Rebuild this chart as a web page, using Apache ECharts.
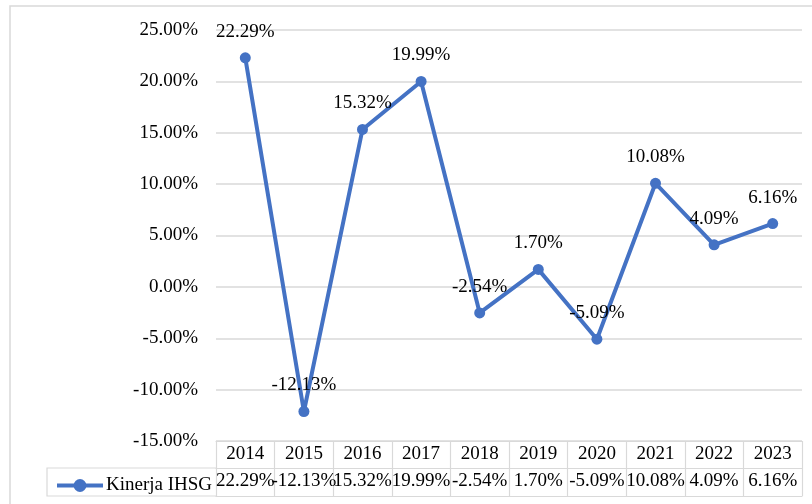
<!DOCTYPE html>
<html>
<head>
<meta charset="utf-8">
<script src="https://cdn.jsdelivr.net/npm/echarts@6/dist/echarts.min.js"></script>
<style>html,body{margin:0;padding:0;background:#fff}#c{width:812px;height:504px}</style>
</head>
<body>
<div id="c"></div>
<script>
const years = ['2014','2015','2016','2017','2018','2019','2020','2021','2022','2023'];
const kinerja = [22.29, -12.13, 15.32, 19.99, -2.54, 1.70, -5.09, 10.08, 4.09, 6.16];
const seriesName = 'Kinerja IHSG';
const yTicks = { min: -15, max: 25, interval: 5 };

const FONT = '"Liberation Serif", "Times New Roman", serif';
const FS = 19;
const GRAY = '#d9d9d9';
const BLUE = '#4472C4';
const chart = echarts.init(document.getElementById('c'));
const fmt = v => v.toFixed(2) + '%';

chart.setOption({
  animation: false,
  grid: { left: 216, right: 10, top: 30, bottom: 63 },
  legend: {
    show: true,
    left: 50, top: 471,
    itemWidth: 46, itemHeight: 16, itemGap: 4,
    lineStyle: { width: 4, color: BLUE },
    itemStyle: { color: BLUE },
    textStyle: { fontFamily: FONT, fontSize: FS, color: '#000', padding: [0, 0, 0, -2] },
    data: [seriesName]
  },
  graphic: [
    { type: 'rect', shape: { x: 10, y: 6, width: 830, height: 540 }, style: { fill: 'none', stroke: GRAY, lineWidth: 1.5 }, silent: true },
    { type: 'polyline', shape: { points: [[216, 468], [47, 468], [47, 496], [216, 496]] }, style: { fill: 'none', stroke: GRAY, lineWidth: 1.2 }, silent: true }
  ],
  xAxis: [
    {
      type: 'category', data: years, position: 'bottom', boundaryGap: true,
      axisLine: { show: true, onZero: false, lineStyle: { color: GRAY, width: 1.2 } },
      axisTick: { show: true, interval: 0, length: 55, lineStyle: { color: GRAY, width: 1.2 } },
      axisLabel: { interval: 0, margin: 4, fontFamily: FONT, fontSize: FS, color: '#000' }
    },
    {
      type: 'category', data: kinerja.map(fmt), position: 'bottom', offset: 27, boundaryGap: true,
      axisLine: { show: true, onZero: false, lineStyle: { color: GRAY, width: 1.2 } },
      axisTick: { show: false },
      axisLabel: { interval: 0, margin: 4, fontFamily: FONT, fontSize: FS, color: '#000' }
    },
    {
      type: 'category', data: years, position: 'bottom', offset: 55, boundaryGap: true,
      axisLine: { show: true, onZero: false, lineStyle: { color: GRAY, width: 1.2 } },
      axisTick: { show: false },
      axisLabel: { show: false }
    }
  ],
  yAxis: {
    type: 'value', min: yTicks.min, max: yTicks.max, interval: yTicks.interval,
    axisLine: { show: false }, axisTick: { show: false },
    splitLine: { lineStyle: { color: GRAY, width: 1.5 } },
    axisLabel: { margin: 18, fontFamily: FONT, fontSize: FS, color: '#000', formatter: v => v.toFixed(2) + '%' }
  },
  series: [{
    name: seriesName, type: 'line', xAxisIndex: 0, data: kinerja,
    symbol: 'circle', symbolSize: 11,
    lineStyle: { color: BLUE, width: 4 },
    itemStyle: { color: BLUE },
    label: { show: true, position: 'top', distance: 11, fontFamily: FONT, fontSize: FS, color: '#000', formatter: p => fmt(p.value) }
  }]
});
</script>
</body>
</html>
